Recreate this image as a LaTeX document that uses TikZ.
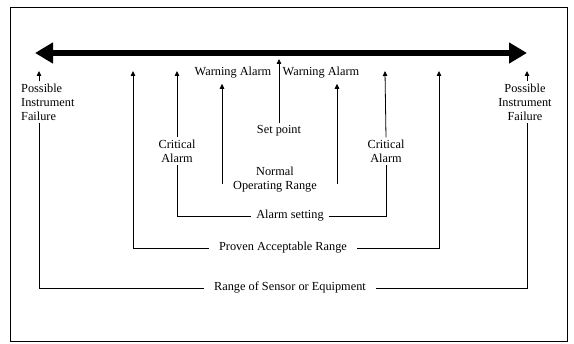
\documentclass[tikz,border=0pt]{standalone}
\usepackage{fontspec}
\setmainfont{Liberation Serif}
\usepackage{tikz}
\usetikzlibrary{positioning,arrows.meta,calc}

\begin{document}
\begin{tikzpicture}[x=1pt, y=-1pt,
  txt/.style={font=\fontsize{12.3}{14}\selectfont, align=center, inner sep=2pt},
  rng/.style={txt, inner xsep=10pt},
  tip/.style={-{Triangle[length=5pt, width=4.5pt]}, line width=0.8pt},
  ln/.style={line width=0.8pt},
  scale line/.style={{Triangle[length=18pt, width=20pt]}-{Triangle[length=18pt, width=20pt]}, line width=6.5pt}]
\useasboundingbox (0,0) rectangle (574,344);
\node[draw, line width=0.9pt, minimum width=557pt, minimum height=334pt, anchor=north west] (frame) at (10,7) {};
% main scale
\coordinate (sclL) at (35,53);
\coordinate (sclR) at (527,53);
\draw[scale line] (sclL) -- (sclR);
% tips on the scale
\coordinate (failLtip) at (39,71);
\coordinate (failRtip) at (527,71);
\coordinate (provLtip) at (133,71);
\coordinate (provRtip) at (439,71);
\coordinate (critLtip) at (177,71);
\coordinate (critRtip) at (385,71);
\coordinate (setTip) at (279,59);
\coordinate (nrmL) at (222,184);
\coordinate (nrmR) at (337,184);
% labels
\node[txt, align=left, anchor=west] (failL) at (19,102) {Possible\\Instrument\\Failure};
\node[txt] (failR) at (525,102) {Possible\\Instrument\\Failure};
\node[txt] (critL) at (177,151) {Critical\\Alarm};
\node[txt] (critR) at (386,151) {Critical\\Alarm};
\node[txt] (warnL) at (233,73) {Warning Alarm};
\node[txt] (warnR) at (321,73) {Warning Alarm};
\node[txt] (setpt) at (279,131) {Set point};
\node[txt] (normal) at (275,180) {Normal\\Operating Range};
\node[txt, inner xsep=5pt] (alarmset) at (290,216) {Alarm setting};
\node[rng] (proven) at (283,248) {Proven Acceptable Range};
\node[rng] (range) at (290,288) {Range of Sensor or Equipment};
% connectors
\draw[tip] (failL.north -| failLtip) -- (failLtip);
\draw[tip] (failR.north -| failRtip) -- (failRtip);
\draw[ln] (failL.south -| failLtip) |- (range.west);
\draw[ln] (range.east) -| (failR.south -| failRtip);
\draw[tip] (proven.west) -| (provLtip);
\draw[tip] (proven.east) -| (provRtip);
\draw[tip] (critL.north) -- (critLtip);
\draw[tip] (critR.north) -- (critRtip);
\draw[ln] (alarmset.west) -| (critL.south);
\draw[ln] (alarmset.east) -| (critR.south);
\draw[tip] (nrmL) -- ($(warnL.south -| nrmL)+(0,3)$);
\draw[tip] (nrmR) -- ($(warnR.south -| nrmR)+(0,3)$);
\draw[tip] (setpt.north) -- (setTip);
\end{tikzpicture}
\end{document}
